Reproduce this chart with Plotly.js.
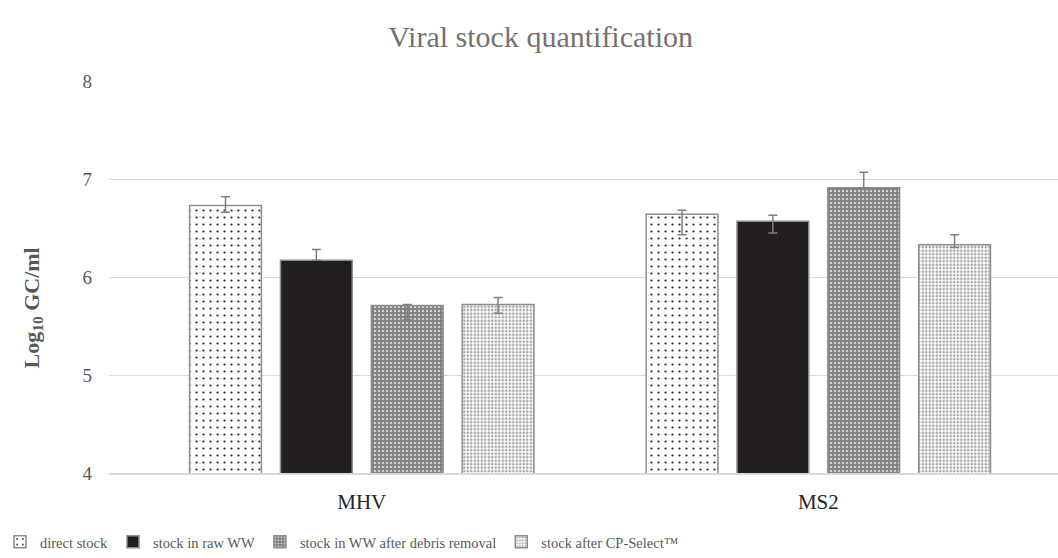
<!DOCTYPE html>
<html>
<head>
<meta charset="utf-8">
<script src="https://cdn.plot.ly/plotly-3.0.1.min.js"></script>
<style>html,body{margin:0;padding:0;background:#fff;}#chart{width:1058px;height:558px;}</style>
</head>
<body>
<div id="chart"></div>
<script>
const categories = ["MHV", "MS2"];
const seriesNames = ["direct stock", "stock in raw WW", "stock in WW after debris removal", "stock after CP-Select™"];
const directStock = [6.73, 6.64];
const directPlus = [0.09, 0.04];
const directMinus = [0.07, 0.21];
const rawWW = [6.17, 6.57];
const rawPlus = [0.11, 0.06];
const rawMinus = [0.0, 0.12];
const debrisRemoved = [5.71, 6.91];
const debrisPlus = [0.01, 0.16];
const debrisMinus = [0.15, 0.0];
const cpSelect = [5.72, 6.33];
const cpPlus = [0.07, 0.10];
const cpMinus = [0.09, 0.03];
const yTicks = [4, 5, 6, 7, 8];
const yTitle = "<b>Log<sub>10</sub> GC/ml</b>";

const outline = {color: "#8c8c8c", width: 1.5};
function err(p, m) {
  return {type: "data", symmetric: false, array: p, arrayminus: m, color: "#7f7f7f", thickness: 1.5, width: 4.5};
}
const traces = [
  {type: "bar", name: seriesNames[0], x: categories, y: directStock, error_y: err(directPlus, directMinus),
   marker: {color: "#ffffff", line: outline, pattern: {shape: ".", fgcolor: "#222222", bgcolor: "#ffffff", size: 7, solidity: 0.08, fillmode: "replace"}}},
  {type: "bar", name: seriesNames[1], x: categories, y: rawWW, error_y: err(rawPlus, rawMinus),
   marker: {color: "#231f20", line: outline}},
  {type: "bar", name: seriesNames[2], x: categories, y: debrisRemoved, error_y: err(debrisPlus, debrisMinus),
   marker: {color: "#8a8a8a", line: outline, pattern: {shape: ".", fgcolor: "#d0d0d0", bgcolor: "#808080", size: 4, solidity: 0.3, fillmode: "replace"}}},
  {type: "bar", name: seriesNames[3], x: categories, y: cpSelect, error_y: err(cpPlus, cpMinus),
   marker: {color: "#d9d9d9", line: outline, pattern: {shape: ".", fgcolor: "#a0a0a0", bgcolor: "#ffffff", size: 3.5, solidity: 0.4, fillmode: "replace"}}}
];

const layout = {
  width: 1058, height: 558,
  paper_bgcolor: "#ffffff", plot_bgcolor: "#ffffff",
  margin: {l: 107, r: 0, t: 81, b: 85},
  font: {family: "Liberation Serif", color: "#595959", size: 15},
  title: {text: "Viral stock quantification", x: 0.511, xanchor: "center", y: 0.935, yanchor: "middle",
          font: {family: "Liberation Serif", size: 30, color: "#767171"}},
  barmode: "group", bargap: 0.204, bargroupgap: 0.21,
  xaxis: {type: "category", range: [-0.5537, 1.525], showgrid: false, zeroline: false,
          showline: true, linecolor: "#d9d9d9", linewidth: 1.5, ticks: "", ticklen: 0, ticklabelstandoff: 9,
          tickfont: {size: 21, color: "#262626"}, fixedrange: true},
  yaxis: {range: [4, 8], tickvals: yTicks, ticktext: yTicks.map(String), showgrid: true, gridcolor: "#d9d9d9", gridwidth: 1,
          zeroline: false, showline: false, ticks: "", ticklen: 0, ticklabelstandoff: 16, tickfont: {size: 19, color: "#595959"},
          fixedrange: true},
  annotations: [{text: yTitle, textangle: -90, xref: "paper", yref: "paper", x: -0.08, y: 0.42,
                 xanchor: "center", yanchor: "middle", showarrow: false, font: {size: 22, color: "#595959"}}],
  legend: {orientation: "h", x: -0.115, xanchor: "left", y: -0.135, yanchor: "top",
           font: {size: 14.5, color: "#595959"}, itemwidth: 30, tracegroupgap: 0, traceorder: "normal"},
  showlegend: true
};
Plotly.newPlot("chart", traces, layout, {displayModeBar: false, staticPlot: true});
</script>
</body>
</html>
